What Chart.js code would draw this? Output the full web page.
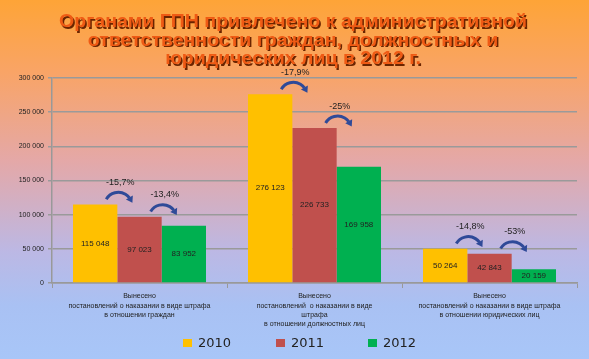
<!DOCTYPE html>
<html>
<head>
<meta charset="utf-8">
<script src="https://cdn.jsdelivr.net/npm/chart.js@4"></script>
<style>
  html, body { margin: 0; padding: 0; }
  #wrap { width: 589px; height: 359px; }
</style>
</head>
<body>
<div id="wrap"><canvas id="chart" width="589" height="359"></canvas></div>
<script>
const titleLines = ['Органами ГПН привлечено к административной', 'ответственности граждан, должностных и', 'юридических лиц в 2012 г.'];
const categories = [
    ['Вынесено', 'постановлений о наказании в виде штрафа', 'в отношении граждан'],
    ['Вынесено', 'постановлений  о наказании в виде', 'штрафа', 'в отношении должностных лиц'],
    ['Вынесено', 'постановлений о наказании в виде штрафа', 'в отношении юридических лиц']
];
const years = ['2010', '2011', '2012'];
const values2010 = [115048, 276123, 50264];
const values2011 = [97023, 226733, 42843];
const values2012 = [83952, 169958, 20159];
const change1011 = ['-15,7%', '-17,9%', '-14,8%'];
const change1112 = ['-13,4%', '-25%', '-53%'];
const yMax = 300000;
const yStep = 50000;

const FONT = '"Liberation Sans", Arial, sans-serif';
const fmt = v => String(v).replace(/\B(?=(\d{3})+(?!\d))/g, ' ');

const bgPlugin = {
    id: 'bg',
    beforeDraw(chart) {
        const ctx = chart.ctx;
        const g = ctx.createLinearGradient(0, 0, 0, chart.height);
        g.addColorStop(0, '#fea437');
        g.addColorStop(0.2, '#f9a466');
        g.addColorStop(0.45, '#e4a8a8');
        g.addColorStop(0.7, '#bcb8e4');
        g.addColorStop(0.85, '#a9c1f3');
        g.addColorStop(1, '#a8c6f8');
        ctx.save();
        ctx.fillStyle = g;
        ctx.fillRect(0, 0, chart.width, chart.height);
        ctx.restore();
    }
};

const titlePlugin = {
    id: 'bigTitle',
    afterDraw(chart) {
        const ctx = chart.ctx;
        const sx = 1.085;
        ctx.save();
        ctx.scale(sx, 1);
        ctx.font = 'bold 18px ' + FONT;
        ctx.textAlign = 'center';
        ctx.textBaseline = 'middle';
        titleLines.forEach((t, i) => {
            const y = 22.5 + i * 18.5;
            const x = 293 / sx;
            ctx.fillStyle = '#6b2400';
            ctx.fillText(t, x + 1.4, y + 1.5);
            ctx.fillStyle = '#ef5a14';
            ctx.fillText(t, x, y);
        });
        ctx.restore();
    }
};

const labelsPlugin = {
    id: 'barLabels',
    afterDatasetsDraw(chart) {
        const ctx = chart.ctx;
        ctx.save();
        ctx.textAlign = 'center';
        ctx.textBaseline = 'middle';
        ctx.font = '8px ' + FONT;
        ctx.fillStyle = '#222';
        chart.data.datasets.forEach((ds, di) => {
            chart.getDatasetMeta(di).data.forEach((bar, j) => {
                ctx.fillText(fmt(ds.data[j]), bar.x, (bar.y + bar.base) / 2);
            });
        });
        // arrows with percentage change
        const pairs = [change1011, change1112];
        pairs.forEach((txt, pi) => {
            const meta = chart.getDatasetMeta(pi);
            meta.data.forEach((bar, j) => {
                const bx = bar.x + bar.width / 2 + 1;
                const top = bar.y;
                const r = 14;
                const cy = top + 2;
                const a0 = Math.PI * 1.17, a1 = Math.PI * 1.83;
                ctx.strokeStyle = '#2f4a98';
                ctx.lineWidth = 3;
                ctx.beginPath();
                ctx.arc(bx, cy, r, a0, a1 - 0.12);
                ctx.stroke();
                const ex = bx + r * Math.cos(a1), ey = cy + r * Math.sin(a1);
                const tx = -Math.sin(a1), ty = Math.cos(a1);
                const nx = -ty, ny = tx;
                ctx.fillStyle = '#2f4a98';
                ctx.beginPath();
                ctx.moveTo(ex + tx * 4, ey + ty * 4);
                ctx.lineTo(ex - tx * 2 + nx * 4, ey - ty * 2 + ny * 4);
                ctx.lineTo(ex - tx * 2 - nx * 4, ey - ty * 2 - ny * 4);
                ctx.closePath();
                ctx.fill();
                ctx.fillStyle = '#222';
                ctx.font = '9px ' + FONT;
                ctx.fillText(txt[j], bx + 2, top - 22);
            });
        });
        ctx.restore();
    }
};

const legendPlugin = {
    id: 'bottomLegend',
    afterDraw(chart) {
        const ctx = chart.ctx;
        const xs = [183, 276, 368];
        ctx.save();
        ctx.font = '13px "DejaVu Sans", sans-serif';
        ctx.textBaseline = 'middle';
        chart.data.datasets.forEach((ds, i) => {
            ctx.fillStyle = ds.backgroundColor;
            ctx.fillRect(xs[i], 339, 9, 8);
            ctx.fillStyle = '#222';
            ctx.fillText(ds.label, xs[i] + 15, 344);
        });
        ctx.restore();
    }
};

new Chart(document.getElementById('chart'), {
    type: 'bar',
    data: {
        labels: categories,
        datasets: [
            { label: years[0], data: values2010, backgroundColor: '#ffc000' },
            { label: years[1], data: values2011, backgroundColor: '#c0504d' },
            { label: years[2], data: values2012, backgroundColor: '#00b050' }
        ]
    },
    options: {
        responsive: false,
        animation: false,
        layout: { padding: { top: 78, right: 12, left: 0, bottom: 0 } },
        datasets: { bar: { categoryPercentage: 0.76, barPercentage: 1.0, borderWidth: 0 } },
        plugins: { legend: { display: false }, title: { display: false }, tooltip: { enabled: false } },
        scales: {
            x: {
                afterFit(s) { s.height = 76; },
                grid: { drawOnChartArea: false, drawTicks: true, tickLength: 5, color: '#999', lineWidth: 1 },
                border: { color: '#999', width: 1.5 },
                ticks: { color: '#222', font: { family: FONT, size: 7, lineHeight: 1.3 }, padding: 4, maxRotation: 0, autoSkip: false }
            },
            y: {
                min: 0, max: yMax,
                afterFit(s) { s.width = 52; },
                grid: { color: '#9a9a9a', lineWidth: 1.5, tickLength: 4 },
                border: { color: '#999', width: 1.5 },
                ticks: { stepSize: yStep, color: '#222', font: { family: FONT, size: 7 }, padding: 4, callback: v => fmt(v) }
            }
        }
    },
    plugins: [bgPlugin, labelsPlugin, titlePlugin, legendPlugin]
});
</script>
</body>
</html>
